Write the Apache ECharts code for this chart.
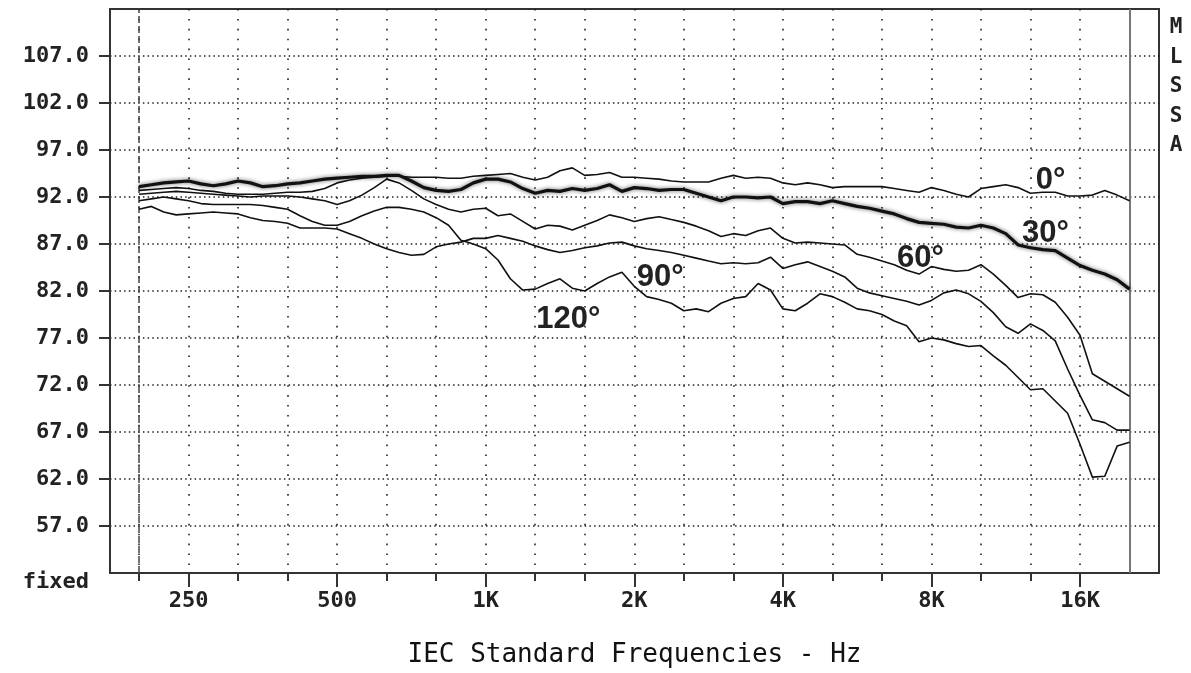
<!DOCTYPE html>
<html><head><meta charset="utf-8">
<script src="https://cdn.jsdelivr.net/npm/echarts@6/dist/echarts.min.js"></script>
<style>html,body{margin:0;padding:0;background:#fff}#c{width:1191px;height:673px}</style>
</head><body><div id="c"></div>
<script>
// 1/12-octave frequency points (Hz)
const freqs = [198.4,210.2,222.7,236.0,250.0,264.9,280.6,297.3,315.0,333.7,353.6,374.6,396.9,420.4,445.4,471.9,500.0,529.7,561.2,594.6,630.0,667.4,707.1,749.2,793.7,840.9,890.9,943.9,1000,1059,1122,1189,1260,1335,1414,1498,1587,1682,1782,1888,2000,2119,2245,2378,2520,2670,2828,2997,3175,3364,3564,3776,4000,4238,4490,4757,5040,5339,5657,5993,6350,6727,7127,7551,8000,8476,8980,9514,10079,10679,11314,11986,12699,13454,14254,15102,16000,16951,17959,19027,20159];

const db0 = [92.7,92.8,92.9,93.0,92.9,92.7,92.6,92.4,92.3,92.3,
  92.3,92.4,92.5,92.5,92.6,92.9,93.5,93.8,94.0,94.1,
  94.2,94.2,94.1,94.1,94.1,94.0,94.0,94.2,94.3,94.4,
  94.5,94.1,93.8,94.1,94.8,95.1,94.3,94.4,94.6,94.1,
  94.1,94.0,93.9,93.7,93.6,93.6,93.6,94.0,94.3,94.0,
  94.1,94.0,93.5,93.3,93.5,93.3,93.0,93.1,93.1,93.1,
  93.1,92.9,92.7,92.5,93.0,92.7,92.3,92.0,92.9,93.1,
  93.3,93.0,92.4,92.5,92.5,92.1,92.1,92.2,92.7,92.2,91.6];

const db30 = [93.1,93.3,93.5,93.6,93.7,93.4,93.2,93.4,93.7,93.5,
  93.1,93.2,93.4,93.5,93.7,93.9,94.0,94.1,94.2,94.2,
  94.3,94.3,93.7,93.0,92.7,92.6,92.8,93.5,93.9,93.9,
  93.6,92.9,92.4,92.7,92.6,92.9,92.7,92.9,93.3,92.6,
  93.0,92.9,92.7,92.8,92.8,92.4,92.0,91.6,92.0,92.0,
  91.9,92.0,91.3,91.5,91.5,91.3,91.6,91.3,91.0,90.8,
  90.5,90.2,89.7,89.3,89.2,89.1,88.8,88.7,89.0,88.7,
  88.1,86.9,86.6,86.4,86.3,85.5,84.7,84.2,83.8,83.2,82.2];

const db60 = [92.3,92.4,92.5,92.6,92.5,92.4,92.3,92.2,92.1,92.0,
  92.1,92.1,92.1,92.0,91.8,91.6,91.2,91.6,92.2,93.0,
  93.9,93.5,92.7,91.8,91.2,90.7,90.4,90.7,90.8,90.0,
  90.2,89.4,88.6,89.0,88.9,88.5,89.0,89.5,90.1,89.8,
  89.4,89.7,89.9,89.6,89.3,88.9,88.4,87.8,88.1,87.9,
  88.4,88.7,87.6,87.1,87.2,87.1,87.0,86.9,85.9,85.6,
  85.2,84.8,84.2,83.8,84.6,84.3,84.1,84.2,84.8,83.8,
  82.6,81.3,81.7,81.6,80.8,79.2,77.3,73.2,72.4,71.6,70.8];

const db90 = [90.7,91.0,90.4,90.1,90.2,90.3,90.4,90.3,90.2,89.8,
  89.5,89.4,89.2,88.7,88.7,88.7,88.6,88.1,87.6,87.0,
  86.5,86.1,85.8,85.9,86.7,87.0,87.2,87.6,87.6,87.9,
  87.6,87.3,86.8,86.4,86.1,86.3,86.6,86.8,87.1,87.2,
  86.8,86.5,86.3,86.1,85.8,85.5,85.2,84.9,85.0,84.9,
  85.0,85.6,84.4,84.8,85.1,84.6,84.1,83.5,82.3,81.8,
  81.5,81.2,80.9,80.5,81.0,81.8,82.1,81.7,80.9,79.7,
  78.2,77.5,78.5,77.8,76.7,73.7,70.9,68.3,68.0,67.2,67.2];

const db120 = [91.6,91.8,92.0,91.8,91.6,91.3,91.2,91.2,91.2,91.2,
  91.1,90.9,90.7,90.0,89.4,89.0,89.0,89.4,90.0,90.5,
  90.9,90.9,90.7,90.4,89.8,89.0,87.4,87.0,86.5,85.3,
  83.3,82.1,82.2,82.8,83.3,82.3,82.0,82.8,83.5,84.0,
  82.5,81.4,81.1,80.7,79.9,80.1,79.8,80.7,81.2,81.4,
  82.8,82.1,80.1,79.9,80.7,81.7,81.4,80.8,80.1,79.9,
  79.5,78.8,78.3,76.6,77.0,76.8,76.4,76.1,76.2,75.1,
  74.1,72.8,71.5,71.6,70.3,69.0,65.7,62.2,62.3,65.5,65.9];

const seriesNames = ['0°','30°','60°','90°','120°'];
const labelFreqs = [13943, 13620, 7600, 2258, 1470];
const labelDbs = [93.8, 88.1, 85.5, 83.4, 79.0];

const thirdOctaveTicks = [198.4,250,315,396.9,500,630,793.7,1000,1260,1587,2000,2520,3175,4000,5040,6350,8000,10079,12699,16000];
const octaveTicks = [250,500,1000,2000,4000,8000,16000];
const octaveLabels = ['250','500','1K','2K','4K','8K','16K'];
const yTicks = [57,62,67,72,77,82,87,92,97,102,107];
const startFreq = 198.4, endFreq = 20159;

const mono = '"DejaVu Sans Mono", "Liberation Mono", monospace';
const chart = echarts.init(document.getElementById('c'), null, {renderer:'canvas'});
const dbs = [db0, db30, db60, db90, db120];

const thin = {width:1.6, color:'#111'};
const thick = {width:3.2, color:'#111', shadowBlur:4, shadowColor:'rgba(0,0,0,0.6)'};

const series = dbs.map((arr, s) => ({
  type:'line', name: seriesNames[s], xAxisIndex:0, yAxisIndex:0,
  symbol:'none', showSymbol:false, animation:false, silent:true,
  data: freqs.map((f, i) => [f, arr[i]]),
  lineStyle: s === 1 ? thick : thin,
  z: s === 1 ? 6 : 5,
  markPoint: {
    symbol:'circle', symbolSize:0, silent:true, animation:false,
    label:{show:true, position:'inside', formatter:'{b}', fontFamily:'"Liberation Sans", Arial, sans-serif', fontWeight:'bold', fontSize:31, color:'#222'},
    data:[{name: seriesNames[s], coord:[labelFreqs[s], labelDbs[s]]}]
  }
}));
series[0].markLine = {
  symbol:['none','none'], silent:true, animation:false, label:{show:false},
  data:[
    {xAxis:startFreq, lineStyle:{color:'#444', width:1.5, type:[7,3]}},
    {xAxis:endFreq, lineStyle:{color:'#777', width:2, type:'solid'}}
  ]
};

function octLabel(v){
  const i = octaveTicks.findIndex(t => Math.abs(Math.log2(t / v)) < 0.01);
  return i >= 0 ? octaveLabels[i] : '';
}

chart.setOption({
  animation:false,
  backgroundColor:'#fff',
  grid:{left:110, right:32, top:9, bottom:84, show:true, borderColor:'#333', borderWidth:2, backgroundColor:'transparent'},
  xAxis:[
    {type:'log', logBase:2, min:173.3, max:23130, position:'bottom',
     axisLine:{show:true, lineStyle:{color:'#333', width:2}},
     axisTick:{show:true, customValues:thirdOctaveTicks, length:8, lineStyle:{color:'#333', width:2}},
     axisLabel:{show:false},
     minorTick:{show:false}, minorSplitLine:{show:false},
     splitLine:{show:true, lineStyle:{color:'#222', width:1.6, type:[1.6,8.3]}}},
    {type:'log', logBase:2, min:173.3, max:23130, position:'bottom',
     axisLine:{show:false},
     axisTick:{show:true, customValues:octaveTicks, length:14, lineStyle:{color:'#333', width:2}},
     axisLabel:{show:true, customValues:octaveTicks, formatter:octLabel, margin:17,
       fontFamily:mono, fontWeight:'bold', fontSize:22, color:'#222'},
     splitLine:{show:false}, minorTick:{show:false},
     name:'IEC Standard Frequencies - Hz', nameLocation:'middle', nameGap:69,
     nameTextStyle:{fontFamily:mono, fontSize:26, color:'#111'}}
  ],
  yAxis:{type:'value', min:52, max:112, position:'left',
    axisLine:{show:true, lineStyle:{color:'#333', width:2}},
    axisTick:{show:true, customValues:yTicks, length:11, lineStyle:{color:'#333', width:2}},
    axisLabel:{customValues:yTicks, formatter:v => Number(v).toFixed(1), margin:21,
      fontFamily:mono, fontWeight:'bold', fontSize:22, color:'#222'},
    splitLine:{show:true, lineStyle:{color:'#222', width:1.5, type:[1.5,3.2]}}},
  graphic:[
    {type:'text', x:89, y:582, silent:true,
     style:{text:'fixed', font:'bold 22px ' + mono, align:'right', verticalAlign:'middle', fill:'#222'}},
    {type:'text', x:1176, y:13, silent:true,
     style:{text:'M\nL\nS\nS\nA', font:'bold 21px ' + mono, align:'center', verticalAlign:'top', lineHeight:29.5, fill:'#222'}}
  ],
  series: series
});
</script>
</body></html>
